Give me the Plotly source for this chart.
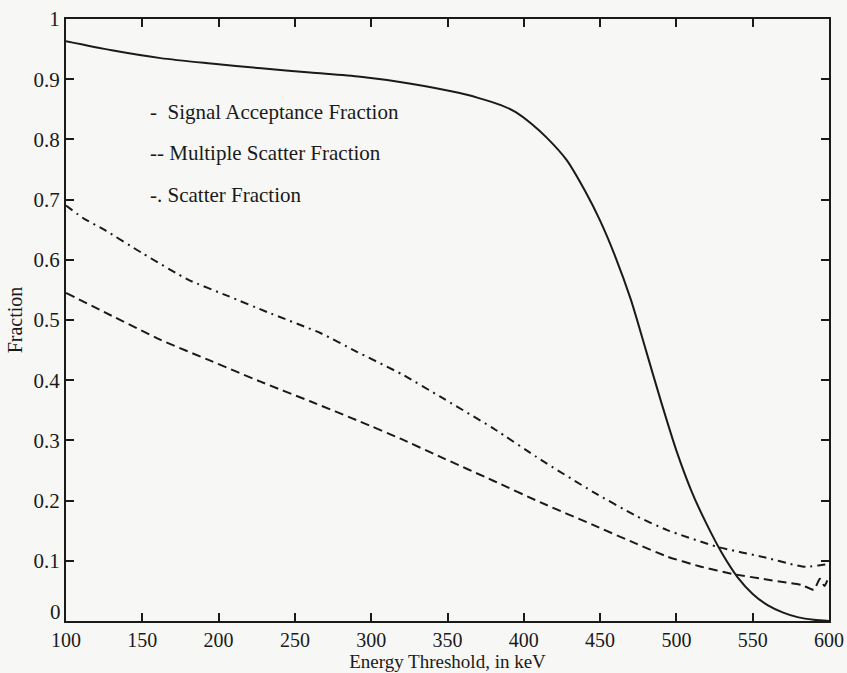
import plotly.graph_objects as go

# Signal acceptance fraction (solid)
sig_x = [100, 130, 162, 195, 228, 260, 293, 325, 358, 370, 385, 395, 405, 415, 428, 440, 450, 460, 470, 480, 490, 500, 510, 520, 530, 540, 550, 560, 570, 580, 590, 600]
sig_y = [0.963, 0.948, 0.935, 0.926, 0.918, 0.911, 0.904, 0.893, 0.877, 0.869, 0.857, 0.845, 0.826, 0.803, 0.766, 0.715, 0.665, 0.605, 0.535, 0.450, 0.364, 0.283, 0.215, 0.160, 0.112, 0.073, 0.045, 0.026, 0.014, 0.006, 0.002, 0.0]

# Multiple scatter fraction (dashed)
mul_x = [100, 130, 162, 195, 227, 260, 293, 320, 345, 380, 411, 445, 474, 494, 515, 537, 559, 572, 582, 590, 594, 597, 600]
mul_y = [0.545, 0.507, 0.467, 0.432, 0.398, 0.365, 0.331, 0.302, 0.273, 0.233, 0.197, 0.160, 0.128, 0.107, 0.091, 0.078, 0.069, 0.064, 0.060, 0.052, 0.070, 0.058, 0.075]

# Scatter fraction (dash-dot)
sca_x = [100, 112, 125, 150, 180, 206, 232, 267, 290, 320, 345, 380, 411, 445, 474, 494, 527, 559, 576, 585, 598, 600]
sca_y = [0.690, 0.668, 0.650, 0.611, 0.567, 0.540, 0.513, 0.478, 0.448, 0.410, 0.373, 0.320, 0.268, 0.215, 0.174, 0.151, 0.123, 0.105, 0.094, 0.090, 0.094, 0.094]

legend_labels = ["-  Signal Acceptance Fraction", "-- Multiple Scatter Fraction", "-. Scatter Fraction"]
legend_y = [0.846, 0.778, 0.707]

x_ticks = [100, 150, 200, 250, 300, 350, 400, 450, 500, 550, 600]
y_ticks = [0, 0.1, 0.2, 0.3, 0.4, 0.5, 0.6, 0.7, 0.8, 0.9, 1]
y_tick_text = ["", "0.1", "0.2", "0.3", "0.4", "0.5", "0.6", "0.7", "0.8", "0.9", "1"]
zero_label = "0"

FONT = "Liberation Serif, Times New Roman, serif"
INK = "#1a1a1a"
FS = 21

fig = go.Figure()
fig.add_trace(go.Scatter(x=sig_x, y=sig_y, mode="lines", line=dict(color=INK, width=2, shape="spline", smoothing=0.8)))
fig.add_trace(go.Scatter(x=mul_x, y=mul_y, mode="lines", line=dict(color=INK, width=2, dash="9px,5px", shape="spline", smoothing=0.5)))
fig.add_trace(go.Scatter(x=sca_x, y=sca_y, mode="lines", line=dict(color=INK, width=2, dash="8px,5px,2px,5px", shape="spline", smoothing=0.5)))

for t, yy in zip(legend_labels, legend_y):
    fig.add_annotation(x=153.5, y=yy, xref="x", yref="y", text=t, showarrow=False,
                       xanchor="left", yanchor="middle", font=dict(family=FONT, size=FS, color=INK))

# the "0" label of the y axis sits slightly above the x axis in the original
fig.add_annotation(x=0, y=y_ticks[0], xref="paper", yref="y", text=zero_label, showarrow=False,
                   xanchor="right", yanchor="middle", xshift=-3, yshift=9,
                   font=dict(family=FONT, size=FS, color=INK))

axis_common = dict(showgrid=False, zeroline=False, showline=True, linecolor=INK, linewidth=2,
                   mirror="ticks", ticks="inside", ticklen=8, tickwidth=1.5, tickcolor=INK,
                   automargin=False)

fig.update_xaxes(range=[100, 600], tickvals=x_ticks, ticktext=[str(v) for v in x_ticks],
                 tickfont=dict(family=FONT, size=FS - 1, color=INK),
                 title=dict(text="Energy Threshold, in keV", font=dict(family=FONT, size=FS - 2, color=INK), standoff=2),
                 **axis_common)
fig.update_yaxes(range=[0, 1], tickvals=y_ticks, ticktext=y_tick_text,
                 tickfont=dict(family=FONT, size=FS, color=INK),
                 title=dict(text="Fraction", font=dict(family=FONT, size=FS - 1, color=INK), standoff=6),
                 **axis_common)

fig.update_layout(width=847, height=673, showlegend=False,
                  margin=dict(l=66, r=18, t=19, b=52),
                  paper_bgcolor="#f7f7f5", plot_bgcolor="#f7f7f5")

fig.write_html("out.html")
